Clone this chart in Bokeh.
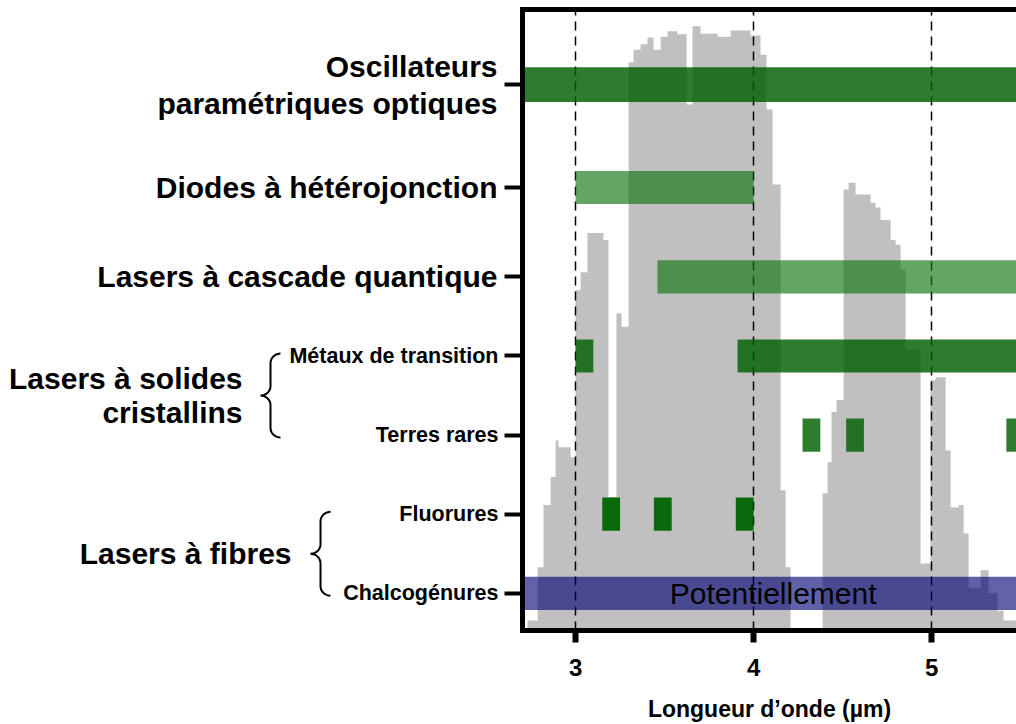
import numpy as np
from bokeh.plotting import figure
from bokeh.models import Range1d, LinearAxis, FixedTicker
from bokeh.core.properties import value
from bokeh.embed import file_html
from bokeh.resources import INLINE

FONT = "Liberation Sans"

# ---- atmospheric transmission (background, %), step segments ----
wl_edges = [2.73, 2.787, 2.82, 2.86, 2.888, 2.904, 2.972, 3.0, 3.028, 3.067,
            3.157, 3.185, 3.23, 3.258, 3.298, 3.326, 3.365, 3.404, 3.438, 3.478,
            3.517, 3.573, 3.624, 3.657, 3.702, 3.798, 3.871, 3.983, 4.039, 4.073,
            4.107, 4.152, 4.18, 4.208, 4.388, 4.416, 4.438, 4.466, 4.506, 4.534,
            4.573, 4.657, 4.685, 4.713, 4.77, 4.798, 4.826, 4.854, 4.938, 4.994,
            5.022, 5.079, 5.107, 5.152, 5.18, 5.208, 5.275, 5.32, 5.371, 5.404, 5.478]
transmission = [1.6, 10.2, 20.2, 24.7, 30.6, 29.5, 27.9, 54.8, 57.7, 64.0,
                62.9, 21.5, 51.1, 48.9, 91.5, 93.5, 94.4, 95.5, 93.5, 95.6,
                96.5, 96.0, 84.7, 97.3, 96.1, 95.6, 96.6, 95.8, 92.7, 83.9,
                71.8, 22.6, 10.2, 0.0, 22.1, 27.1, 35.2, 37.1, 71.0, 72.1,
                70.2, 68.9, 68.1, 66.1, 62.9, 62.1, 58.1, 45.2, 10.8, 40.3,
                40.8, 29.0, 19.8, 20.2, 15.6, 6.9, 9.7, 6.0, 3.2, 1.6]

# ---- categories (rows) ----
cat_keys = ["chalco", "fluor", "terres", "metaux", "qcl", "diodes", "opo"]
cat_y = [0.5, 1.5, 2.5, 3.5, 4.5, 5.63, 6.93]
sub_labels = {"chalco": "Chalcogénures", "fluor": "Fluorures",
              "terres": "Terres rares", "metaux": "Métaux de transition"}
main_labels = {"qcl": ["Lasers à cascade quantique"],
               "diodes": ["Diodes à hétérojonction"],
               "opo": ["Oscillateurs", "paramétriques optiques"]}
group_labels = [("Lasers à solides\ncristallins", "metaux", "terres"),
                ("Lasers à fibres", "fluor", "chalco")]

# ---- emission ranges (µm) ----
bar_cat = ["opo", "diodes", "qcl", "metaux", "metaux",
           "terres", "terres", "terres", "fluor", "fluor", "fluor", "chalco"]
bar_start = [2.6, 3.0, 3.46, 3.0, 3.91, 4.275, 4.52, 5.42, 3.15, 3.44, 3.9, 2.6]
bar_end = [5.6, 4.0, 5.6, 3.1, 5.6, 4.375, 4.62, 5.52, 3.25, 3.54, 4.0, 5.6]
note_text = ["Potentiellement"]
note_x = [4.11]

x_ticks = [3, 4, 5]

# ---- styles ----
style = {
    "opo": ("#005f00", 0.82, 0.44),
    "diodes": ("#117511", 0.65, 0.42),
    "qcl": ("#117511", 0.65, 0.42),
    "metaux": ("#005f00", 0.82, 0.42),
    "terres": ("#005f00", 0.82, 0.42),
    "fluor": ("#006400", 0.95, 0.42),
    "chalco": ("#000073", 0.62, 0.42),
}

ypos = dict(zip(cat_keys, cat_y))

W, H = 1016, 724
FL, FT, FB = 522, 9, 94   # frame borders (left, top, bottom)

p = figure(width=W, height=H, x_range=Range1d(2.702, 5.477),
           y_range=Range1d(0.03, 7.88), output_backend="svg",
           toolbar_location=None, min_border_left=FL, min_border_right=0,
           min_border_top=FT, min_border_bottom=FB)
p.extra_y_ranges = {"T": Range1d(0, 100)}
# pixel-like horizontal range for the left-hand labels (matches frame width)
p.extra_x_ranges = {"lab": Range1d(FL, W)}
p.outline_line_color = None
p.background_fill_color = "white"
p.border_fill_color = "white"

# spectrum as a step area
ex = np.asarray(wl_edges, dtype=float)
tv = np.asarray(transmission, dtype=float)
sx = np.concatenate([np.repeat(ex, 2)[1:-1], [ex[-1], ex[0]]])
sy = np.concatenate([np.repeat(tv, 2), [0.0, 0.0]])
spec = p.patch(sx, sy, y_range_name="T", fill_color="#c0c0c0", line_color=None)
spec.level = "underlay"

# bars
for cat in cat_keys:
    idx = [i for i, c in enumerate(bar_cat) if c == cat]
    if not idx:
        continue
    col, alpha, h = style[cat]
    p.hbar(y=[ypos[cat]] * len(idx), left=[bar_start[i] for i in idx],
           right=[bar_end[i] for i in idx], height=h,
           fill_color=col, fill_alpha=alpha, line_color=None)

p.text(x=note_x, y=[ypos["chalco"]], text=note_text, text_font=value(FONT),
       text_font_size="30px", text_align="center", text_baseline="middle",
       text_color="black")

# grid (dashed verticals)
p.ygrid.visible = False
p.xgrid.ticker = FixedTicker(ticks=x_ticks)
p.xgrid.grid_line_color = "black"
p.xgrid.grid_line_dash = "9 6"
p.xgrid.grid_line_width = 1.5

# x axis
xa = p.xaxis[0]
xa.ticker = FixedTicker(ticks=x_ticks)
xa.axis_line_width = 5
xa.axis_line_cap = "square"
xa.major_tick_out = 12
xa.major_tick_in = 0
xa.major_tick_line_width = 6
xa.minor_tick_line_color = None
xa.major_label_text_font = FONT
xa.major_label_text_font_style = "bold"
xa.major_label_text_font_size = "24px"
xa.major_label_text_color = "black"
xa.major_label_standoff = 16
xa.axis_label = "Longueur d’onde (µm)"
xa.axis_label_text_font = FONT
xa.axis_label_text_font_style = "bold"
xa.axis_label_text_font_size = "23px"
xa.axis_label_text_color = "black"
xa.axis_label_standoff = 17

# y axis
ya = p.yaxis[0]
ya.ticker = FixedTicker(ticks=cat_y)
ya.major_label_overrides = {ypos[k]: sub_labels.get(k, "") for k in cat_keys}
ya.axis_line_width = 5
ya.axis_line_cap = "square"
ya.major_tick_out = 18
ya.major_tick_in = 0
ya.major_tick_line_width = 4
ya.minor_tick_line_color = None
ya.major_label_text_font = FONT
ya.major_label_text_font_style = "bold"
ya.major_label_text_font_size = "21.5px"
ya.major_label_text_color = "black"
ya.major_label_standoff = 6

# top border as an empty axis
top = LinearAxis(ticker=FixedTicker(ticks=[]), axis_line_width=5,
                 axis_line_cap="square", major_tick_line_color=None,
                 minor_tick_line_color=None, major_label_text_font_size="0px",
                 major_label_standoff=0, axis_label_standoff=0)
p.add_layout(top, "above")

# main row labels (left of the axis), drawn unclipped at annotation level
LABEL_RIGHT = 497
lx, ly, lt = [], [], []
for k, lines in main_labels.items():
    n = len(lines)
    for j, t in enumerate(lines):
        lx.append(LABEL_RIGHT)
        ly.append(ypos[k] + (n - 1) / 2 * 0.47 - j * 0.47)
        lt.append(t)
p.text(x=lx, y=ly, text=lt, x_range_name="lab", level="annotation",
       text_font=value(FONT), text_font_style="bold", text_font_size="30px",
       text_align="right", text_baseline="middle", text_color="black")

def brace(x_stem, y_top, y_bot, rx=10.0, ry=0.12, n=10):
    mid = (y_top + y_bot) / 2
    def arc(cx, cy, a0, a1):
        th = np.radians(np.linspace(a0, a1, n))
        return cx + rx * np.cos(th), cy + ry * np.sin(th)
    parts = [arc(x_stem + rx, y_top - ry, 90, 180),
             arc(x_stem - rx, mid + ry, 0, -90),
             arc(x_stem - rx, mid - ry, 90, 0),
             arc(x_stem + rx, y_bot + ry, 180, 270)]
    return (np.concatenate([q[0] for q in parts]),
            np.concatenate([q[1] for q in parts]))

group_text_right = [242, 291]
brace_stem = [270, 320]
gx, gy, gt = [], [], []
for (txt, hi, lo), tx, bs in zip(group_labels, group_text_right, brace_stem):
    yh, yl = ypos[hi], ypos[lo]
    bxs, bys = brace(bs, yh + 0.03, yl - 0.03)
    p.line(bxs, bys, x_range_name="lab", level="annotation",
           line_color="black", line_width=2)
    lines = txt.split("\n")
    n = len(lines)
    for j, t in enumerate(lines):
        gx.append(tx)
        gy.append((yh + yl) / 2 + (n - 1) / 2 * 0.42 - j * 0.42)
        gt.append(t)
p.text(x=gx, y=gy, text=gt, x_range_name="lab", level="annotation",
       text_font=value(FONT), text_font_style="bold", text_font_size="30px",
       text_align="right", text_baseline="middle", text_color="black")

open("out.html", "w").write(file_html(p, INLINE))
